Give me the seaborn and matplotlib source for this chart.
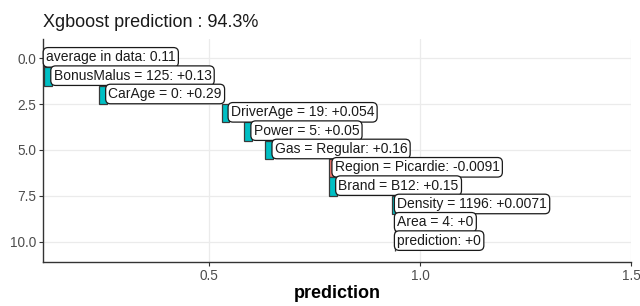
import numpy as np
import pandas as pd
import matplotlib
matplotlib.use("Agg")
import matplotlib.pyplot as plt
import seaborn as sns

# ---- data ----
features = ["average in data", "BonusMalus = 125", "CarAge = 0", "DriverAge = 19",
            "Power = 5", "Gas = Regular", "Region = Picardie", "Brand = B12",
            "Density = 1196", "Area = 4", "prediction"]
contrib_text = ["0.11", "+0.13", "+0.29", "+0.054", "+0.05", "+0.16", "-0.0091",
                "+0.15", "+0.0071", "+0", "+0"]
baseline = 0.11
contributions = [0.0, 0.13, 0.29, 0.054, 0.05, 0.16, -0.0091, 0.15, 0.0071, 0.0, 0.0]
title = "Xgboost prediction : 94.3%"
x_ticks = [0.5, 1.0, 1.5]
x_ticklabels = ["0.5", "1.0", "1.5"]
y_ticks = [0.0, 2.5, 5.0, 7.5, 10.0]
y_ticklabels = ["0.0", "2.5", "5.0", "7.5", "10.0"]

# ---- derived table ----
df = pd.DataFrame({"feature": features, "label_val": contrib_text,
                   "contribution": contributions})
df["row"] = np.arange(len(df))
df["start"] = baseline + df["contribution"].cumsum().shift(1, fill_value=0.0)
BAR_CAP = 0.018  # visual bar width cap
df["width"] = np.sign(df["contribution"]) * np.minimum(df["contribution"].abs(), BAR_CAP)
df["color"] = np.where(df["contribution"] < 0, "#F8766D", "#00BFC4")

# ---- styling ----
sns.set_theme(style="white")
plt.rcParams["font.family"] = ["Liberation Sans", "DejaVu Sans"]

fig = plt.figure(figsize=(6.4, 3.06), dpi=100)
ax = fig.add_axes([0.0672, 0.1448, 0.9188, 0.7277])

ax.set_xlim(0.107, 1.5)
ax.set_ylim(11.1, -1.05)

# grid
for xv in x_ticks:
    ax.axvline(xv, color="#EBEBEB", lw=0.9, zorder=0)
for yv in y_ticks:
    ax.axhline(yv, color="#EBEBEB", lw=0.9, zorder=0)

ax.barh(y=df["row"], width=df["width"], left=df["start"], height=1.0,
        color=df["color"], edgecolor="#3a3a3a", linewidth=0.9, zorder=2)

gap = 0.004
for _, r in df.iterrows():
    lx = max(r["start"], r["start"] + r["width"]) + gap
    ax.text(lx, r["row"] - 0.05, f"{r['feature']}: {r['label_val']}", fontsize=10,
            color="#1a1a1a", ha="left", va="center", zorder=3,
            bbox=dict(boxstyle="round,pad=0.2,rounding_size=0.35", fc="white",
                      ec="#1a1a1a", lw=0.9))

ax.set_xticks(x_ticks)
ax.set_xticklabels(x_ticklabels)
ax.set_yticks(y_ticks)
ax.set_yticklabels(y_ticklabels)
ax.tick_params(axis="both", labelsize=9.8, labelcolor="#4D4D4D", color="#333333",
               length=3, width=0.8, direction="out", left=True, bottom=True, pad=2)

sns.despine(ax=ax, top=True, right=True)
for s in ["left", "bottom"]:
    ax.spines[s].set_color("#333333")
    ax.spines[s].set_linewidth(1.0)

ax.set_xlabel("prediction", fontsize=13, fontweight="bold", color="black", labelpad=2)
ax.set_ylabel("")
ax.set_title(title, fontsize=13, loc="left", color="#1a1a1a", pad=9)

fig.savefig("out.png", dpi=100)
